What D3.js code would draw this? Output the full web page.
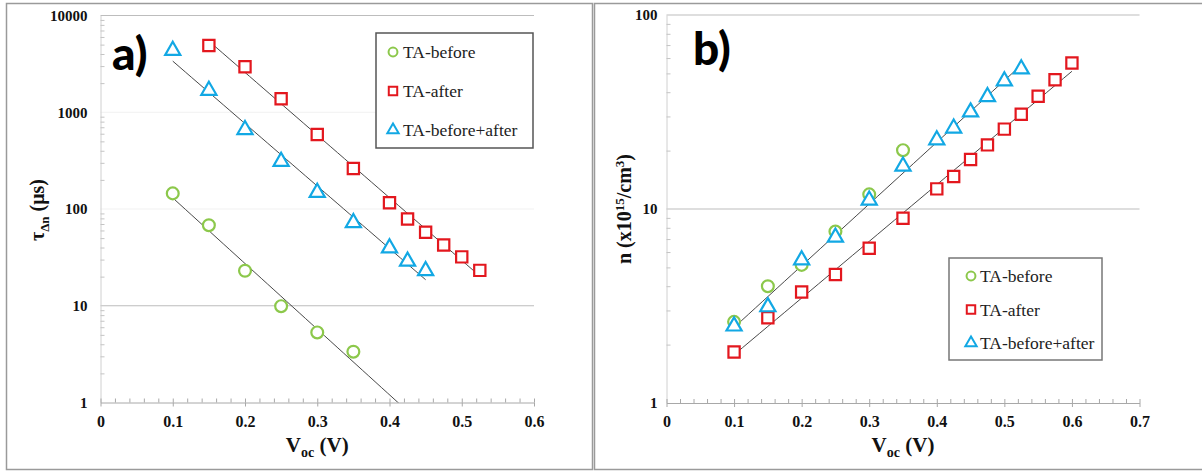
<!DOCTYPE html>
<html>
<head>
<meta charset="utf-8">
<style>
  body { margin: 0; background: #fff; }
  svg { display: block; }
  .tick text { font-family: "Liberation Serif", serif; font-weight: bold; fill: #111; }
  .title { font-family: "Liberation Serif", serif; font-weight: bold; fill: #111; }
  .tag { font-family: Lato, sans-serif; font-weight: 900; fill: #000; }
</style>
</head>
<body>
<svg width="1202" height="471"></svg>
<script src="https://d3js.org/d3.v7.min.js"></script>
<script>

// ---- data ----
var seriesNames = ["TA-before", "TA-after", "TA-before+after"];

// panel a) lifetime tau (us) vs Voc (V)
var tauBeforeV = [0.1, 0.15, 0.2, 0.25, 0.3, 0.35];
var tauBefore  = [145, 68, 23, 9.9, 5.3, 3.35];
var tauAfterV  = [0.15, 0.2, 0.25, 0.3, 0.35, 0.4, 0.425, 0.45, 0.475, 0.5, 0.525];
var tauAfter   = [4900, 2950, 1380, 590, 262, 116, 79, 57.5, 42.5, 32, 23.2];
var tauBothV   = [0.1, 0.15, 0.2, 0.25, 0.3, 0.35, 0.4, 0.425, 0.45];
var tauBoth    = [4350, 1680, 660, 310, 148, 72, 39.5, 28.8, 23];

// panel b) carrier density n (x10^15 /cm3) vs Voc (V)
var nBeforeV = [0.1, 0.15, 0.2, 0.25, 0.3, 0.35];
var nBefore  = [2.62, 4.0, 5.15, 7.65, 11.9, 20.1];
var nAfterV  = [0.1, 0.15, 0.2, 0.25, 0.3, 0.35, 0.4, 0.425, 0.45, 0.475, 0.5, 0.525, 0.55, 0.575, 0.6];
var nAfter   = [1.83, 2.75, 3.73, 4.6, 6.27, 8.95, 12.7, 14.7, 18.0, 21.4, 25.8, 30.8, 38.1, 46.4, 56.6];
var nBothV   = [0.1, 0.15, 0.2, 0.25, 0.3, 0.35, 0.4, 0.425, 0.45, 0.475, 0.5, 0.525];
var nBoth    = [2.49, 3.13, 5.46, 7.15, 11.1, 16.6, 22.7, 26.1, 31.6, 37.9, 45.7, 52.7];

var xTicksA = [0, 0.1, 0.2, 0.3, 0.4, 0.5, 0.6];
var yTicksA = [1, 10, 100, 1000, 10000];
var xTicksB = [0, 0.1, 0.2, 0.3, 0.4, 0.5, 0.6, 0.7];
var yTicksB = [1, 10, 100];

var colors = { before: "#8cc84b", after: "#e3171e", both: "#12a8e4" };

var svg = d3.select("svg");

// panel frames
svg.append("rect").attr("x", 6.5).attr("y", 3.5).attr("width", 586).attr("height", 466)
  .attr("fill", "none").attr("stroke", "#9a9a9a").attr("stroke-width", 1.5);
svg.append("rect").attr("x", 594.5).attr("y", 3.5).attr("width", 620).attr("height", 466)
  .attr("fill", "none").attr("stroke", "#9a9a9a").attr("stroke-width", 1.5);

// least squares on log10(y) -> exponential trendline
function expFit(xs, ys) {
  var ly = ys.map(function(v) { return Math.log10(v); });
  var mx = d3.mean(xs), my = d3.mean(ly);
  var sxy = d3.sum(xs, function(v, i) { return (v - mx) * (ly[i] - my); });
  var sxx = d3.sum(xs, function(v) { return (v - mx) * (v - mx); });
  var b = sxy / sxx, a = my - b * mx;
  return function(v) { return Math.pow(10, a + b * v); };
}

function symbolFor(kind, size) {
  if (kind === "before") return d3.symbol().type(d3.symbolCircle).size(size * 1.0)();
  if (kind === "after") return d3.symbol().type(d3.symbolSquare).size(size * 1.15)();
  return d3.symbol().type(d3.symbolTriangle).size(size * 0.9)();
}

function drawPanel(cfg) {
  var x = d3.scaleLinear().domain(cfg.xDomain).range(cfg.xRange);
  var y = d3.scaleLog().domain(cfg.yDomain).range(cfg.yRange);
  var g = svg.append("g");

  // gridlines
  g.selectAll(".grid").data(cfg.yTicks.slice(1)).enter().append("line")
    .attr("x1", x.range()[0]).attr("x2", x.range()[1])
    .attr("y1", function(d) { return y(d); }).attr("y2", function(d) { return y(d); })
    .attr("stroke", function(d) { return cfg.faintGrid.indexOf(d) >= 0 ? "#f1f1f1" : "#bdbdbd"; })
    .attr("stroke-width", 1.2);

  // y axis: labels + minor ticks inside
  var minorY = [];
  cfg.yTicks.slice(0, -1).forEach(function(t) {
    for (var k = 2; k <= 9; k++) minorY.push(t * k);
  });
  var gy = g.append("g").attr("transform", "translate(" + x.range()[0] + ",0)");
  gy.call(d3.axisLeft(y).tickValues(minorY).tickSize(-4).tickSizeOuter(0).tickFormat(""));
  gy.call(function(s) {
    s.select(".domain").attr("stroke", "#d0d0d0");
    s.selectAll(".tick line").attr("stroke", "#c4c4c4");
  });
  var gyl = g.append("g").attr("transform", "translate(" + x.range()[0] + ",0)");
  gyl.call(d3.axisLeft(y).tickValues(cfg.yTicks).tickSize(0).tickPadding(cfg.yPad)
    .tickFormat(d3.format("d")));
  gyl.select(".domain").remove();
  gyl.selectAll(".tick text").style("font-size", "15px");

  // x axis: minor ticks up, majors both ways
  var minorX = d3.range(0, Math.round(cfg.xDomain[1] / 0.02) + 1).map(function(i) { return i * 0.02; });
  var gx = g.append("g").attr("transform", "translate(0," + y.range()[0] + ")");
  gx.call(d3.axisBottom(x).tickValues(minorX).tickSize(-4).tickSizeOuter(0).tickFormat(""));
  gx.select(".domain").attr("stroke", "#a8a8a8");
  gx.selectAll(".tick line").attr("stroke", "#a8a8a8");
  var gx2 = g.append("g").attr("transform", "translate(0," + y.range()[0] + ")");
  gx2.call(d3.axisBottom(x).tickValues(cfg.xTicks).tickSize(4).tickSizeOuter(0).tickPadding(9)
    .tickFormat(function(d) { return d === 0 ? "0" : d.toFixed(1); }));
  gx2.select(".domain").remove();
  gx2.selectAll(".tick line").attr("stroke", "#a8a8a8");
  gx2.selectAll(".tick text").style("font-size", "16px");

  // clip region for trendlines
  var clipId = "clip" + cfg.id;
  svg.append("clipPath").attr("id", clipId).append("rect")
    .attr("x", x.range()[0]).attr("y", y.range()[1])
    .attr("width", x.range()[1] - x.range()[0]).attr("height", y.range()[0] - y.range()[1]);

  var line = d3.line().x(function(d) { return x(d[0]); }).y(function(d) { return y(d[1]); });
  cfg.series.forEach(function(s) {
    if (!s.trend) return;
    var f = expFit(s.xs, s.ys);
    var x0 = d3.min(s.xs), x1 = d3.max(s.xs) + (s.forecast || 0);
    var pts = d3.range(0, 41).map(function(i) { var v = x0 + (x1 - x0) * i / 40; return [v, f(v)]; });
    g.append("path").datum(pts).attr("d", line).attr("clip-path", "url(#" + clipId + ")")
      .attr("fill", "none").attr("stroke", "#333").attr("stroke-width", 0.9);
  });

  // markers
  cfg.series.forEach(function(s) {
    g.selectAll(null).data(s.xs.map(function(v, i) { return [v, s.ys[i]]; })).enter()
      .append("path")
      .attr("d", symbolFor(s.kind, 110))
      .attr("transform", function(d) { return "translate(" + x(d[0]) + "," + y(d[1]) + ")"; })
      .attr("fill", "#fff").attr("stroke", colors[s.kind]).attr("stroke-width", 2.2);
  });

  // legend
  var L = cfg.legend;
  var lg = svg.append("g");
  lg.append("rect").attr("x", L.x).attr("y", L.y).attr("width", L.w).attr("height", L.h)
    .attr("fill", "#fff").attr("stroke", L.stroke).attr("stroke-width", 1.5);
  ["before", "after", "both"].forEach(function(k, i) {
    var cy = L.y + L.first + i * L.step;
    lg.append("path").attr("d", symbolFor(k, 62))
      .attr("transform", "translate(" + (L.x + L.mx) + "," + cy + ")")
      .attr("fill", "#fff").attr("stroke", colors[k]).attr("stroke-width", 2);
    lg.append("text").attr("x", L.x + L.tx).attr("y", cy + 6)
      .attr("font-family", "'Liberation Serif', 'DejaVu Serif', serif")
      .attr("font-size", "17.5px").attr("fill", "#222")
      .text(seriesNames[i]);
  });

  // axis titles
  var xc = (x.range()[0] + x.range()[1]) / 2;
  var xt = svg.append("text").attr("class", "title").attr("x", xc).attr("y", 452)
    .attr("text-anchor", "middle").style("font-size", "21px");
  xt.append("tspan").text("V");
  xt.append("tspan").attr("dy", 5).style("font-size", "14px").text("oc");
  xt.append("tspan").attr("dy", -5).text(" (V)");

  var yt = svg.append("text").attr("class", "title")
    .attr("transform", "translate(" + cfg.yTitleX + "," + cfg.yTitleY + ") rotate(-90)")
    .attr("text-anchor", "middle").style("font-size", "20px");
  cfg.yTitle(yt);

  svg.append("text").attr("class", "tag").attr("x", cfg.tag.x).attr("y", cfg.tag.y)
    .style("font-size", "46px").text(cfg.tag.text);
}

drawPanel({
  id: "a",
  xDomain: [0, 0.6], xRange: [100.5, 534],
  yDomain: [1, 10000], yRange: [402.5, 15.5],
  xTicks: xTicksA, yTicks: yTicksA, faintGrid: [100, 1000], yPad: 13,
  series: [
    { kind: "before", xs: tauBeforeV, ys: tauBefore, trend: true, forecast: 0.1 },
    { kind: "after", xs: tauAfterV, ys: tauAfter, trend: true },
    { kind: "both", xs: tauBothV, ys: tauBoth, trend: true }
  ],
  legend: { x: 376, y: 33, w: 157, h: 115, first: 19, step: 39, mx: 17, tx: 27, stroke: "#555" },
  yTitleX: 44, yTitleY: 210,
  yTitle: function(t) {
    t.append("tspan").text("\u03c4");
    t.append("tspan").attr("dy", 5).style("font-size", "13px").text("\u0394n");
    t.append("tspan").attr("dy", -5).text(" (\u03bcs)");
  },
  tag: { x: 112, y: 70, text: "a)" }
});

drawPanel({
  id: "b",
  xDomain: [0, 0.7], xRange: [666.5, 1139.5],
  yDomain: [1, 100], yRange: [403, 15],
  xTicks: xTicksB, yTicks: yTicksB, faintGrid: [], yPad: 9,
  series: [
    { kind: "before", xs: nBeforeV, ys: nBefore, trend: false },
    { kind: "after", xs: nAfterV, ys: nAfter, trend: true },
    { kind: "both", xs: nBothV, ys: nBoth, trend: true }
  ],
  legend: { x: 949, y: 258, w: 153, h: 102, first: 18, step: 33.5, mx: 22, tx: 31, stroke: "#777" },
  yTitleX: 631, yTitleY: 209,
  yTitle: function(t) {
    t.append("tspan").text("n (x10");
    t.append("tspan").attr("dy", -7).style("font-size", "13px").text("15");
    t.append("tspan").attr("dy", 7).text("/cm");
    t.append("tspan").attr("dy", -7).style("font-size", "13px").text("3");
    t.append("tspan").attr("dy", 7).text(")");
  },
  tag: { x: 693, y: 65, text: "b)" }
});

</script>
</body>
</html>
